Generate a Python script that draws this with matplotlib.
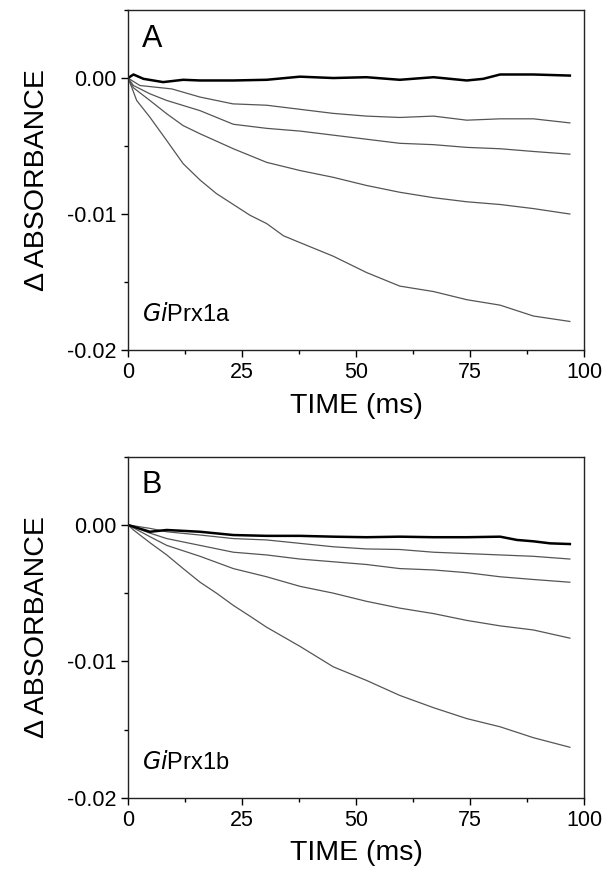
import matplotlib
matplotlib.use("Agg")
import matplotlib.pyplot as plt
from matplotlib.ticker import MultipleLocator

plt.rcParams['font.family'] = ['Liberation Sans', 'DejaVu Sans']

# ---------------- Panel A (GiPrx1a) ----------------
tA_ctrl = [0, 1.2, 3.4, 7.7, 12.1, 15.8, 23.1, 30.4, 37.7, 45, 52.3, 59.6, 67, 74.3, 77.9, 81.6, 88.9, 96.9]
yA_ctrl = [0, 0.00026, -0.00006, -0.0003, -0.00013, -0.00018, -0.00018, -0.00013, 0.0001, 0.0,
           0.00006, -0.00013, 0.00006, -0.00018, -0.00006, 0.00026, 0.00026, 0.00018]

tA1 = [0, 2.6, 9.6, 15.8, 23.0, 30.4, 37.7, 45, 52.3, 59.6, 67, 74.3, 81.6, 88.9, 96.9]
yA1 = [0, -0.00055, -0.0008, -0.0014, -0.0019, -0.0020, -0.0023, -0.0026, -0.0028, -0.0029,
       -0.0028, -0.0031, -0.0030, -0.0030, -0.0033]

tA2 = [0, 1.2, 4.8, 8.5, 15.8, 23.1, 30.4, 37.7, 45, 52.3, 59.6, 67, 74.3, 81.6, 88.9, 96.9]
yA2 = [0, -0.00055, -0.00116, -0.00165, -0.0024, -0.0034, -0.0037, -0.0039, -0.0042, -0.0045,
       -0.0048, -0.0049, -0.0051, -0.0052, -0.0054, -0.0056]

tA3 = [0, 1.2, 4.8, 8.5, 12.1, 15.8, 23.1, 30.4, 37.7, 45, 52.3, 59.6, 67, 74.3, 81.6, 88.9, 96.9]
yA3 = [0, -0.00072, -0.00165, -0.00263, -0.0035, -0.0041, -0.0052, -0.0062, -0.0068, -0.0073,
       -0.0079, -0.0084, -0.0088, -0.0091, -0.0093, -0.0096, -0.0100]

tA4 = [0, 0.8, 1.9, 4.8, 8.5, 12.1, 15.8, 19.4, 23.1, 26.8, 30.4, 34.1, 37.7, 45, 52.3, 59.6, 67,
       74.3, 81.6, 88.9, 96.9]
yA4 = [0, -0.00067, -0.00165, -0.00288, -0.0046, -0.0063, -0.0075, -0.0085, -0.0093, -0.0101,
       -0.0107, -0.0116, -0.0121, -0.0131, -0.0143, -0.0153, -0.0157, -0.0163, -0.0167, -0.0175,
       -0.0179]

# ---------------- Panel B (GiPrx1b) ----------------
tB_ctrl = [0, 4.8, 8.5, 15.8, 23.1, 30.4, 37.7, 45, 52.3, 59.6, 67, 74.3, 81.6, 85.3, 88.9, 92.6, 96.9]
yB_ctrl = [0, -0.0005, -0.00037, -0.0005, -0.00074, -0.0008, -0.0008, -0.00086, -0.0009, -0.00086,
           -0.0009, -0.0009, -0.00086, -0.0011, -0.0012, -0.00135, -0.0014]

tB1 = [0, 4.8, 8.5, 15.8, 23.1, 30.4, 37.7, 45, 52.3, 59.6, 67, 74.3, 81.6, 88.9, 96.9]
yB1 = [0, -0.00025, -0.0005, -0.00074, -0.0010, -0.0011, -0.00135, -0.0016, -0.00176, -0.0018,
       -0.0020, -0.0021, -0.0022, -0.0023, -0.0025]

tB2 = [0, 4.8, 8.5, 15.8, 23.1, 30.4, 37.7, 45, 52.3, 59.6, 67, 74.3, 81.6, 88.9, 96.9]
yB2 = [0, -0.0006, -0.0010, -0.0015, -0.0020, -0.0022, -0.0025, -0.0027, -0.0029, -0.0032,
       -0.0033, -0.0035, -0.0038, -0.0040, -0.0042]

tB3 = [0, 4.8, 8.5, 15.8, 23.1, 30.4, 37.7, 45, 52.3, 59.6, 67, 74.3, 81.6, 88.9, 96.9]
yB3 = [0, -0.00086, -0.0015, -0.0023, -0.0032, -0.0038, -0.0045, -0.0050, -0.0056, -0.0061,
       -0.0065, -0.0070, -0.0074, -0.0077, -0.0083]

tB4 = [0, 1.2, 4.8, 8.5, 12.1, 15.8, 19.4, 23.1, 26.8, 30.4, 37.7, 45, 52.3, 59.6, 67, 74.3,
       81.6, 88.9, 96.9]
yB4 = [0, -0.00037, -0.0013, -0.0022, -0.0032, -0.0042, -0.0050, -0.0059, -0.0067, -0.0075,
       -0.0089, -0.0104, -0.0114, -0.0125, -0.0134, -0.0142, -0.0148, -0.0156, -0.0163]

x_ticks = [0, 25, 50, 75, 100]
y_ticks = [-0.02, -0.01, 0.00]
y_tick_labels = ["-0.02", "-0.01", "0.00"]

fig = plt.figure(figsize=(6.11, 8.72), dpi=100)
axA = fig.add_axes([0.2095, 0.5986, 0.7463, 0.3899])
axB = fig.add_axes([0.2095, 0.0852, 0.7463, 0.3910])

panels = [
    (axA, "A", "Gi", "Prx1a", (tA_ctrl, yA_ctrl), [(tA1, yA1), (tA2, yA2), (tA3, yA3), (tA4, yA4)]),
    (axB, "B", "Gi", "Prx1b", (tB_ctrl, yB_ctrl), [(tB1, yB1), (tB2, yB2), (tB3, yB3), (tB4, yB4)]),
]

for ax, letter, ital, rest, ctrl, curves in panels:
    for t, y in curves:
        ax.plot(t, y, color="#555555", lw=0.9)
    ax.plot(ctrl[0], ctrl[1], color="black", lw=1.8)
    ax.set_xlim(0, 100)
    ax.set_ylim(-0.02, 0.005)
    ax.set_xticks(x_ticks)
    ax.set_yticks(y_ticks)
    ax.set_yticklabels(y_tick_labels)
    ax.xaxis.set_minor_locator(MultipleLocator(12.5))
    ax.yaxis.set_minor_locator(MultipleLocator(0.005))
    ax.tick_params(axis="both", which="major", direction="out", length=5, width=1,
                   labelsize=15.5, top=False, right=False)
    ax.tick_params(axis="both", which="minor", direction="out", length=3, width=1,
                   top=False, right=False)
    for s in ax.spines.values():
        s.set_linewidth(1.0)
        s.set_color("#222222")
    ax.set_xlabel("TIME (ms)", fontsize=20.5, labelpad=7)
    ax.set_ylabel("\u0394 ABSORBANCE", fontsize=20.5, labelpad=12)
    ax.text(0.03, 0.96, letter, transform=ax.transAxes, fontsize=22, va="top", ha="left")
    ax.text(0.03, 0.07, r"$\mathit{" + ital + "}$" + rest, transform=ax.transAxes,
            fontsize=17, va="bottom", ha="left")

fig.savefig("out.png", dpi=100)
